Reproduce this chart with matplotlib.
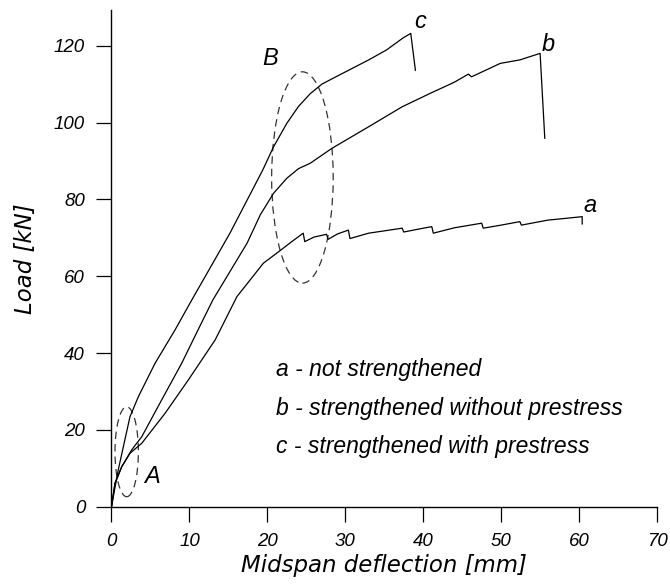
import matplotlib
matplotlib.use("Agg")
import matplotlib.pyplot as plt
from matplotlib.patches import Ellipse

# ================= DATA =================
# curve a - not strengthened
a_x = [0, 0.45, 1.31, 2.37, 3.88, 6.87, 9.86, 13.3, 16.1, 19.5, 21.6, 23.0, 24.6, 24.8,
       26.0, 27.6, 27.8, 29.0, 30.4, 30.6, 33.0, 35.0, 37.3, 37.5, 39.5, 41.1, 41.3,
       44.0, 47.5, 47.7, 50.0, 52.4, 52.6, 56.0, 58.0, 60.4, 60.4]
a_y = [0, 6.1, 10.4, 13.9, 16.5, 24.3, 33.0, 43.4, 54.7, 63.4, 66.6, 68.8, 71.2, 69.0,
       70.2, 70.9, 69.6, 71.0, 72.0, 69.8, 71.2, 71.8, 72.5, 71.5, 72.3, 72.9, 71.2,
       72.6, 73.8, 72.5, 73.3, 74.2, 73.3, 74.6, 75.0, 75.5, 73.6]

# curve b - strengthened without prestress
b_x = [0, 0.45, 1.31, 2.6, 3.23, 3.88, 6.44, 9.0, 11.1, 13.0, 17.4, 19.1, 20.8, 22.5,
       24.0, 25.5, 28.3, 33.0, 37.3, 40.9, 44.0, 45.8, 46.2, 49.9, 52.4, 55.0, 55.6]
b_y = [0, 6.1, 10.4, 14.8, 16.5, 18.2, 27.8, 37.3, 46.0, 53.8, 68.6, 76.0, 81.6, 85.5,
       88.0, 89.4, 93.3, 98.9, 104.1, 107.6, 110.5, 112.6, 111.9, 115.4, 116.3, 118.0, 95.9]

# curve c - strengthened with prestress
c_x = [0, 0.23, 0.87, 1.52, 2.37, 3.44, 5.58, 8.15, 10.3, 15.2, 19.4, 20.8, 22.5, 24.0,
       25.5, 27.0, 28.7, 33.0, 35.3, 37.4, 38.4, 39.0]
c_y = [0, 2.6, 9.6, 15.6, 23.4, 28.6, 37.3, 46.0, 53.8, 71.2, 87.6, 93.7, 99.8, 104.2,
       107.5, 110.0, 111.8, 116.3, 118.9, 122.0, 123.2, 113.6]

legend_lines = ["a - not strengthened",
                "b - strengthened without prestress",
                "c - strengthened with prestress"]
x_ticks = [0, 10, 20, 30, 40, 50, 60, 70]
y_ticks = [0, 20, 40, 60, 80, 100, 120]

# ================= PLOT =================
FONT = "Liberation Sans"

fig = plt.figure(figsize=(6.7, 5.86), dpi=100)
ax = fig.add_axes([0.1664, 0.1353, 0.8142, 0.8477])

for xs, ys in [(a_x, a_y), (b_x, b_y), (c_x, c_y)]:
    ax.plot(xs, ys, color="black", lw=0.9, solid_joinstyle="round")

# dashed ellipses marking regions A and B
for cx, cy, w, h in [(24.5, 85.7, 7.9, 55.0), (1.95, 14.3, 3.0, 23.4)]:
    ax.add_patch(Ellipse((cx, cy), w, h, fill=False, edgecolor="#333333",
                         lw=0.9, linestyle=(0, (6, 4))))

ax.set_xlim(0, 70)
ax.set_ylim(0, 129.3)
ax.set_xticks(x_ticks)
ax.set_yticks(y_ticks)
ax.set_xticklabels([str(v) for v in x_ticks], fontstyle="italic", family=FONT, fontsize=13.5)
ax.set_yticklabels([str(v) for v in y_ticks], fontstyle="italic", family=FONT, fontsize=13.5)
ax.tick_params(direction="out", length=11, width=0.9, pad=8)

for s in ["top", "right"]:
    ax.spines[s].set_visible(False)
for s in ["left", "bottom"]:
    ax.spines[s].set_linewidth(1.0)

ax.set_xlabel("Midspan deflection [mm]", fontstyle="italic", family="DejaVu Sans",
              fontsize=16.5, labelpad=3)
ax.set_ylabel("Load [kN]", fontstyle="italic", family="DejaVu Sans", fontsize=16.5,
              labelpad=12)

# curve / region labels
ax.text(39.6, 126.2, "c", fontstyle="italic", family=FONT, fontsize=17, ha="center", va="center")
ax.text(56.0, 120.2, "b", fontstyle="italic", family=FONT, fontsize=17, ha="center", va="center")
ax.text(61.4, 78.5, "a", fontstyle="italic", family=FONT, fontsize=17, ha="center", va="center")
ax.text(20.4, 116.7, "B", fontstyle="italic", family=FONT, fontsize=17, ha="center", va="center")
ax.text(5.2, 7.8, "A", fontstyle="italic", family=FONT, fontsize=17, ha="center", va="center")

for i, line in enumerate(legend_lines):
    ax.text(21.1, 35.6 - 10.0 * i, line, fontstyle="italic", family=FONT, fontsize=16.5,
            ha="left", va="center")

fig.savefig("out.png", dpi=100)
